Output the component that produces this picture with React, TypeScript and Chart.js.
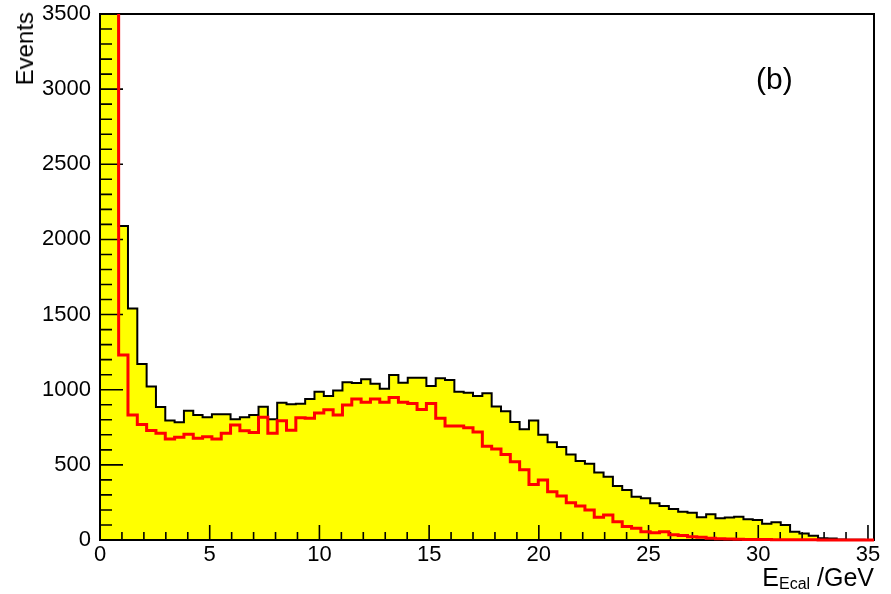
import React, { useEffect, useRef } from "react";
import { Chart, registerables } from "chart.js";

Chart.register(...registerables);

// ---- data -------------------------------------------------------------
const BIN_WIDTH = 0.425; // GeV per bin, histogram starts at 0
const X_MIN = 0;
const X_MAX = 35.275;
const Y_MIN = 0;
const Y_MAX = 3500;
const X_TICKS = [0, 5, 10, 15, 20, 25, 30, 35];
const Y_TICKS = [0, 500, 1000, 1500, 2000, 2500, 3000, 3500];
const X_MINOR_STEP = 1;
const Y_MINOR_STEP = 100;

// all events (yellow, black outline), one value per bin
const ALL_EVENTS = [
  9000, 5200, 2090, 1541, 1171, 1022, 885, 795, 784, 860,
  832, 816, 836, 836, 803, 816, 832, 887, 803, 914,
  903, 907, 938, 987, 958, 995, 1050, 1045, 1070, 1040,
  1007, 1098, 1047, 1080, 1080, 1024, 1076, 1065, 987, 980,
  958, 976, 889, 856, 785, 737, 795, 701, 650, 619,
  569, 526, 507, 449, 421, 360, 333, 288, 277, 244,
  226, 206, 188, 182, 152, 172, 145, 150, 155, 138,
  133, 108, 118, 100, 55, 44, 28, 12, 10, 4,
  2, 1, 0,
];

// selected events (red outline)
const SELECTED_EVENTS = [
  8500, 4800, 1231, 832, 768, 729, 710, 672, 683, 703,
  677, 687, 672, 710, 765, 727, 716, 816, 710, 794,
  730, 814, 810, 845, 867, 832, 898, 938, 916, 938,
  916, 949, 916, 909, 869, 909, 810, 758, 758, 747,
  718, 623, 605, 569, 521, 468, 370, 399, 321, 293,
  248, 226, 200, 151, 166, 122, 89, 78, 55, 49,
  55, 35, 30, 22, 18, 12, 8, 6, 5, 4,
  3, 3, 2, 2, 1, 1, 1, 0, 0, 0,
  0, 0, 0,
];

const X_TITLE_MAIN = "E";
const X_TITLE_SUB = "Ecal";
const X_TITLE_UNIT = " /GeV";
const Y_TITLE = "Events";
const PANEL_LABEL = "(b)";

const FONT = "'Liberation Sans', Arial, Helvetica, sans-serif";

// points at the left edge of each bin, plus the closing right edge
function toSteps(values: number[]) {
  const pts = values.map((v, i) => ({ x: X_MIN + i * BIN_WIDTH, y: v }));
  pts.push({ x: X_MIN + values.length * BIN_WIDTH, y: 0 });
  return pts;
}

const rootAxes = {
  id: "rootAxes",
  afterDatasetDraw(chart: any, args: any) {
    if (args.index !== 1) return; // after the filled histogram, before the red one
    const { ctx, chartArea: a, scales } = chart;
    const xs = scales.x;
    const ys = scales.y;
    ctx.save();
    ctx.strokeStyle = "#000";
    ctx.lineWidth = 1.6;
    ctx.beginPath();
    const nx = Math.round((X_MAX - X_MIN) / X_MINOR_STEP);
    for (let i = 0; i <= nx; i++) {
      const v = X_MIN + i * X_MINOR_STEP;
      if (v > X_MAX) break;
      const px = xs.getPixelForValue(v);
      const len = X_TICKS.includes(v) ? 15 : 8;
      ctx.moveTo(px, a.bottom);
      ctx.lineTo(px, a.bottom - len);
    }
    const ny = Math.round((Y_MAX - Y_MIN) / Y_MINOR_STEP);
    for (let i = 0; i <= ny; i++) {
      const v = Y_MIN + i * Y_MINOR_STEP;
      const py = ys.getPixelForValue(v);
      const len = Y_TICKS.includes(v) ? 23 : 12;
      ctx.moveTo(a.left, py);
      ctx.lineTo(a.left + len, py);
    }
    ctx.stroke();
    ctx.lineWidth = 2;
    ctx.strokeRect(a.left, a.top, a.right - a.left, a.bottom - a.top);
    ctx.restore();
  },
};

export default function App() {
  const canvasRef = useRef<HTMLCanvasElement | null>(null);

  useEffect(() => {
    const canvas = canvasRef.current;
    if (!canvas) return;
    const chart = new Chart(canvas, {
      type: "line",
      data: {
        datasets: [
          {
            label: "selected",
            data: toSteps(SELECTED_EVENTS),
            stepped: "before",
            borderColor: "#ff0000",
            borderWidth: 3,
            borderJoinStyle: "miter",
            pointRadius: 0,
            fill: false,
            clip: { left: 0, top: 0, right: 2, bottom: 3 },
          } as any,
          {
            label: "all",
            data: toSteps(ALL_EVENTS),
            stepped: "before",
            borderColor: "#000000",
            borderWidth: 2,
            borderJoinStyle: "miter",
            backgroundColor: "#ffff00",
            pointRadius: 0,
            fill: "origin",
            clip: { left: 0, top: 0, right: 2, bottom: 3 },
          } as any,
        ],
      },
      options: {
        responsive: false,
        devicePixelRatio: 1,
        animation: false,
        events: [],
        layout: { padding: { top: 14, right: 17, left: 0, bottom: 0 } },
        plugins: {
          legend: { display: false },
          tooltip: { enabled: false },
          title: { display: false },
        },
        scales: {
          x: {
            type: "linear",
            min: X_MIN,
            max: X_MAX,
            grid: { display: false, drawTicks: false },
            border: { display: false },
            ticks: {
              color: "#000",
              font: { family: FONT, size: 22 },
              padding: 2,
              maxRotation: 0,
              autoSkip: false,
              callback: (v: any) => String(v),
            },
            afterBuildTicks: (s: any) => {
              s.ticks = X_TICKS.map((v) => ({ value: v }));
            },
            afterFit: (s: any) => {
              s.height = 54;
              s.paddingLeft = 0;
              s.paddingRight = 0;
            },
          },
          y: {
            type: "linear",
            min: Y_MIN,
            max: Y_MAX,
            grid: { display: false, drawTicks: false },
            border: { display: false },
            ticks: {
              color: "#000",
              font: { family: FONT, size: 22 },
              padding: 9,
              autoSkip: false,
              callback: (v: any) => String(v),
            },
            afterBuildTicks: (s: any) => {
              s.ticks = Y_TICKS.map((v) => ({ value: v }));
            },
            afterFit: (s: any) => {
              s.width = 100;
              s.paddingTop = 0;
              s.paddingBottom = 0;
            },
          },
        },
      } as any,
      plugins: [rootAxes],
    });
    return () => chart.destroy();
  }, []);

  return (
    <div
      style={{
        position: "absolute",
        left: 0,
        top: 0,
        width: 891,
        height: 594,
        background: "#fff",
        overflow: "hidden",
        fontFamily: FONT,
        color: "#000",
      }}
    >
      <canvas
        ref={canvasRef}
        width={891}
        height={594}
        style={{ position: "absolute", left: 0, top: 0, width: 891, height: 594 }}
      />
      <div
        style={{
          position: "absolute",
          left: 13,
          top: 12,
          writingMode: "vertical-rl",
          transform: "rotate(180deg)",
          fontSize: 24,
          lineHeight: "24px",
          whiteSpace: "nowrap",
        }}
      >
        {Y_TITLE}
      </div>
      <div
        style={{
          position: "absolute",
          left: 756,
          top: 62,
          fontSize: 30,
          lineHeight: "34px",
          whiteSpace: "nowrap",
        }}
      >
        {PANEL_LABEL}
      </div>
      <div
        style={{
          position: "absolute",
          right: 17,
          top: 565,
          fontSize: 25,
          lineHeight: "25px",
          whiteSpace: "nowrap",
        }}
      >
        {X_TITLE_MAIN}
        <span style={{ fontSize: 16, position: "relative", top: 3 }}>{X_TITLE_SUB}</span>
        {X_TITLE_UNIT}
      </div>
    </div>
  );
}
